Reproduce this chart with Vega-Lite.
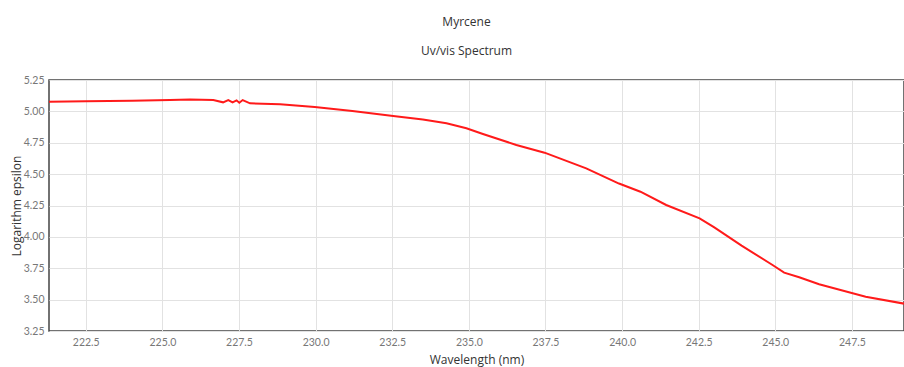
{
  "$schema": "https://vega.github.io/schema/vega-lite/v6.json",
  "autosize": {"type": "none"},
  "width": 855,
  "height": 251,
  "padding": {"left": 49, "top": 80, "right": 0, "bottom": 36},
  "background": "white",
  "title": {
    "text": "Myrcene",
    "subtitle": "Uv/vis Spectrum",
    "anchor": "middle",
    "dx": -10,
    "offset": 17,
    "font": "Open Sans",
    "fontSize": 12,
    "fontWeight": "normal",
    "color": "#333",
    "subtitleFont": "Open Sans",
    "subtitleFontSize": 12,
    "subtitleColor": "#333",
    "subtitlePadding": 17
  },
  "config": {
    "view": {"stroke": "#444", "strokeWidth": 1.5},
    "axis": {
      "domain": false,
      "ticks": false,
      "grid": true,
      "gridColor": "#e2e2e2",
      "gridWidth": 1,
      "labelFont": "Lato",
      "labelFontSize": 10.5,
      "labelColor": "#777",
      "titleFont": "Open Sans",
      "titleFontSize": 12,
      "titleFontWeight": "normal",
      "titleColor": "#333"
    }
  },
  "data": {
    "values": [
      {"wavelength": 221.3, "log_epsilon": 5.076},
      {"wavelength": 222.5, "log_epsilon": 5.08},
      {"wavelength": 224.0, "log_epsilon": 5.085},
      {"wavelength": 225.25, "log_epsilon": 5.09},
      {"wavelength": 225.9, "log_epsilon": 5.095},
      {"wavelength": 226.66, "log_epsilon": 5.09},
      {"wavelength": 226.98, "log_epsilon": 5.072},
      {"wavelength": 227.15, "log_epsilon": 5.09},
      {"wavelength": 227.29, "log_epsilon": 5.072},
      {"wavelength": 227.42, "log_epsilon": 5.088},
      {"wavelength": 227.51, "log_epsilon": 5.069},
      {"wavelength": 227.62, "log_epsilon": 5.09},
      {"wavelength": 227.86, "log_epsilon": 5.064},
      {"wavelength": 228.84, "log_epsilon": 5.056},
      {"wavelength": 229.97, "log_epsilon": 5.035},
      {"wavelength": 231.2, "log_epsilon": 5.003},
      {"wavelength": 232.53, "log_epsilon": 4.963},
      {"wavelength": 233.5, "log_epsilon": 4.935},
      {"wavelength": 234.27, "log_epsilon": 4.905},
      {"wavelength": 234.92, "log_epsilon": 4.865},
      {"wavelength": 235.46, "log_epsilon": 4.82},
      {"wavelength": 236.55, "log_epsilon": 4.732},
      {"wavelength": 237.47, "log_epsilon": 4.671},
      {"wavelength": 238.83, "log_epsilon": 4.546},
      {"wavelength": 239.9, "log_epsilon": 4.425},
      {"wavelength": 240.6, "log_epsilon": 4.36},
      {"wavelength": 241.44, "log_epsilon": 4.254},
      {"wavelength": 242.53, "log_epsilon": 4.148},
      {"wavelength": 243.01, "log_epsilon": 4.076},
      {"wavelength": 243.9, "log_epsilon": 3.93},
      {"wavelength": 244.91, "log_epsilon": 3.776},
      {"wavelength": 245.29, "log_epsilon": 3.715},
      {"wavelength": 245.78, "log_epsilon": 3.678},
      {"wavelength": 246.43, "log_epsilon": 3.622},
      {"wavelength": 247.95, "log_epsilon": 3.523},
      {"wavelength": 249.2, "log_epsilon": 3.468}
    ]
  },
  "mark": {"type": "line", "color": "#ff1a1a", "strokeWidth": 2, "clip": true},
  "encoding": {
    "x": {
      "field": "wavelength",
      "type": "quantitative",
      "scale": {"domain": [221.3, 249.2], "nice": false, "zero": false},
      "axis": {
        "title": "Wavelength (nm)",
        "values": [222.5, 225, 227.5, 230, 232.5, 235, 237.5, 240, 242.5, 245, 247.5],
        "format": ".1f",
        "labelPadding": 6,
        "titlePadding": 7
      }
    },
    "y": {
      "field": "log_epsilon",
      "type": "quantitative",
      "scale": {"domain": [3.25, 5.25], "nice": false, "zero": false},
      "axis": {
        "title": "Logarithm epsilon",
        "values": [3.25, 3.5, 3.75, 4, 4.25, 4.5, 4.75, 5, 5.25],
        "format": ".2f",
        "labelPadding": 5,
        "titlePadding": 0
      }
    }
  }
}
